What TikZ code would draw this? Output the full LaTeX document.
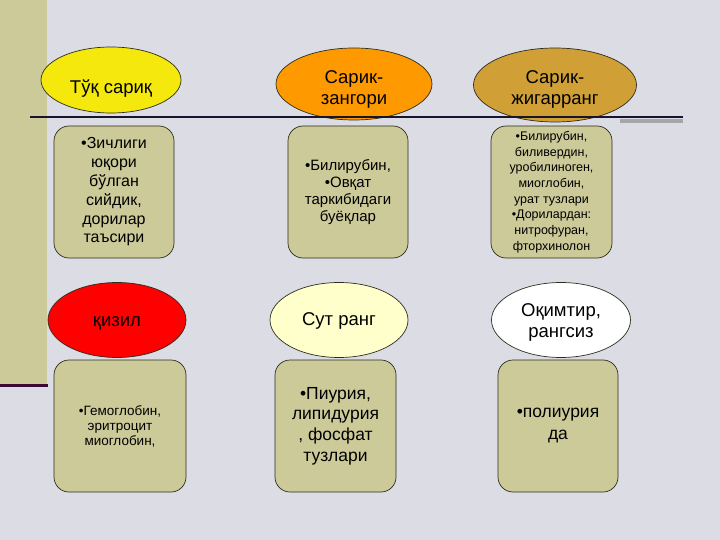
\documentclass[tikz,border=0pt]{standalone}
\usepackage{fontspec}
\setmainfont{Liberation Sans}
\usepackage{xcolor}
\usetikzlibrary{shapes.geometric}
\definecolor{marble}{RGB}{220,220,228}
\definecolor{olivebox}{RGB}{204,202,153}
\definecolor{edgedark}{RGB}{45,45,30}
\definecolor{gold}{RGB}{208,160,55}
\definecolor{amber}{RGB}{255,153,0}
\definecolor{milk}{RGB}{255,255,204}
\definecolor{navyline}{RGB}{25,20,45}

\begin{document}
\begin{tikzpicture}[x=1pt,y=-1pt,
    colorell/.style={ellipse, draw=edgedark, line width=0.7pt, inner sep=0pt},
    elltext/.style={align=center, inner sep=0pt, yshift=#1, font=\fontsize{18.5}{21}\selectfont},
    infobox/.style={rectangle, rounded corners=15pt, draw=edgedark, line width=0.7pt,
                    fill=olivebox, inner sep=0pt, minimum width=120pt, minimum height=132pt, align=center}]
            \useasboundingbox (0,0) rectangle (720,540);
            \fill [marble] (0,0) rectangle (720,540);
            % left bar
            \fill [olivebox] (0,0) rectangle (47,384);
            \draw [color={rgb,255:red,60;green,10;blue,50}, line width=3pt] (0,385) -- (48,385);
            % colour names
            \node [colorell, fill=yellow!95!black, minimum width=140pt, minimum height=66pt,
                   label={[elltext=-9pt]center:Тўқ сариқ}] (yellow) at (111,80) {};
            \node [colorell, fill=amber, minimum width=156pt, minimum height=72pt,
                   label={[elltext=-5pt]center:{Сарик-\\зангори}}] (orange) at (354,84) {};
            \node [colorell, fill=gold, minimum width=163pt, minimum height=74pt,
                   label={[elltext=-4pt]center:{Сарик-\\жигарранг}}] (brown) at (555,85) {};
            \node [colorell, fill=red, minimum width=138pt, minimum height=75pt,
                   label={[elltext=-3pt]center:қизил}] (red) at (117,320) {};
            \node [colorell, fill=milk, minimum width=138pt, minimum height=75pt,
                   label={[elltext=-1pt]center:Сут ранг}] (milky) at (339,320) {};
            \node [colorell, fill=white, minimum width=139pt, minimum height=75pt,
                   label={[elltext=-2pt]center:{Оқимтир,\\рангсиз}}] (clear) at (561,320) {};
            % causes
            \node [infobox, font=\fontsize{16}{18.8}\selectfont] (dense) at (114,192)
                {•Зичлиги\\юқори\\бўлган\\сийдик,\\дорилар\\таъсири};
            \node [infobox, font=\fontsize{15}{17}\selectfont] (dyes) at (348,192)
                {•Билирубин,\\•Овқат\\таркибидаги\\буёқлар};
            \node [infobox, minimum width=121pt, font=\fontsize{12.5}{15.7}\selectfont] (bili) at (551.5,192)
                {•Билирубин,\\биливердин,\\уробилиноген,\\миоглобин,\\урат тузлари\\•Дорилардан:\\нитрофуран,\\фторхинолон};
            \node [infobox, minimum width=132pt, font=\fontsize{13.5}{15}\selectfont] (hemo) at (120,426)
                {•Гемоглобин,\\эритроцит\\миоглобин,};
            \node [infobox, minimum width=121pt, font=\fontsize{17.5}{20.7}\selectfont] (pyuria) at (335.5,426)
                {•Пиурия,\\липидурия\\, фосфат\\тузлари};
            \node [infobox, font=\fontsize{17.5}{22}\selectfont] (poly) at (558,426)
                {•полиурия\\да};
            % rule with its shadow
            \coordinate (ruleL) at (30,117);
            \coordinate (ruleR) at (683,117);
            \draw [gray!70, line width=4pt] ([xshift=-63pt,yshift=-4pt]ruleR) -- ([yshift=-4pt]ruleR);
            \draw [navyline, line width=1.2pt] (ruleL) -- (ruleR);
        \end{tikzpicture}
\end{document}
